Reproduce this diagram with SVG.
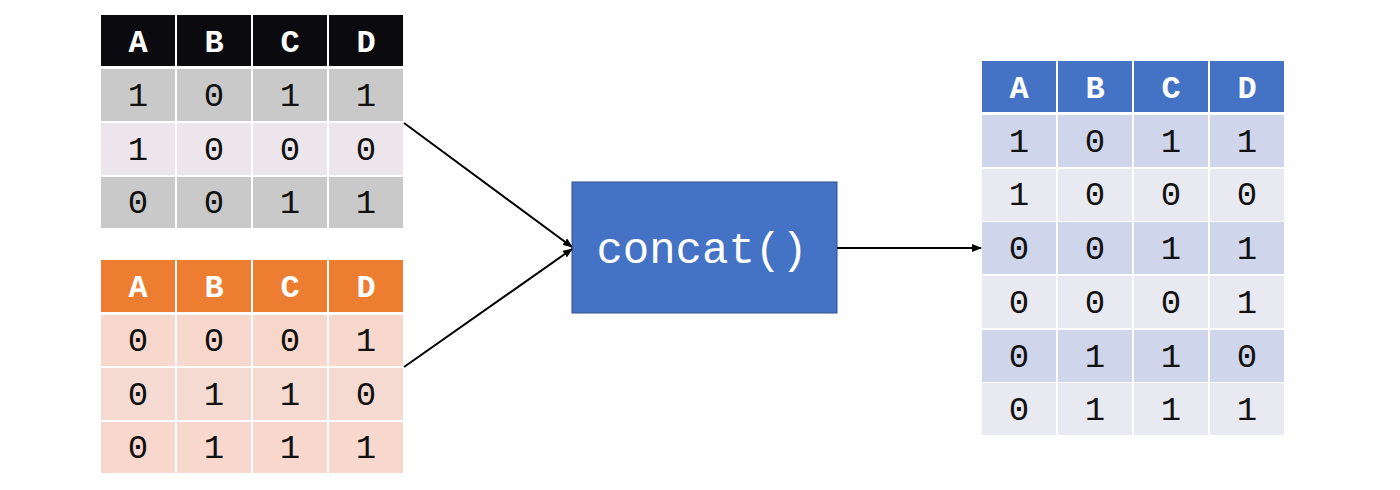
<svg xmlns="http://www.w3.org/2000/svg" width="1400" height="490" viewBox="0 0 1400 490">
<style>
.hd{font-family:"Courier New","Nimbus Mono PS","FreeMono","Liberation Mono",monospace;font-weight:bold;font-size:32px;fill:#ffffff;text-anchor:middle}
.v{font-family:"Courier New","Nimbus Mono PS","FreeMono","Liberation Mono",monospace;font-size:34px;fill:#111111;text-anchor:middle}
.blk{fill:#0a0a0f}.g1{fill:#c9c9c9}.g2{fill:#ece5ec}
.org{fill:#ed7d31}.o1{fill:#f8d7cc}.o2{fill:#f5dad2}
.blu{fill:#4472c4}.b1{fill:#cfd5ea}.b2{fill:#e9e9f1}
.ln{stroke:#000;stroke-width:2;fill:none;marker-end:url(#ah)}
</style>
<defs>
<marker id="ah" markerWidth="10" markerHeight="8" refX="9" refY="4" orient="auto" markerUnits="userSpaceOnUse">
<path d="M0,0 L10,4 L0,8 Z" fill="#000"/>
</marker>
</defs>
<rect width="1400" height="490" fill="#ffffff"/>

<g id="table1">
<rect class="blk" x="101" y="15" width="74" height="51"/><rect class="blk" x="177" y="15" width="74" height="51"/><rect class="blk" x="253" y="15" width="74" height="51"/><rect class="blk" x="329" y="15" width="74" height="51"/>
<text class="hd" x="138" y="52">A</text><text class="hd" x="214" y="52">B</text><text class="hd" x="290" y="52">C</text><text class="hd" x="366" y="52">D</text>
<rect class="g1" x="101" y="69" width="74" height="52"/><rect class="g1" x="177" y="69" width="74" height="52"/><rect class="g1" x="253" y="69" width="74" height="52"/><rect class="g1" x="329" y="69" width="74" height="52"/>
<text class="v" x="138" y="106">1</text><text class="v" x="214" y="106">0</text><text class="v" x="290" y="106">1</text><text class="v" x="366" y="106">1</text>
<rect class="g2" x="101" y="123" width="74" height="52"/><rect class="g2" x="177" y="123" width="74" height="52"/><rect class="g2" x="253" y="123" width="74" height="52"/><rect class="g2" x="329" y="123" width="74" height="52"/>
<text class="v" x="138" y="160">1</text><text class="v" x="214" y="160">0</text><text class="v" x="290" y="160">0</text><text class="v" x="366" y="160">0</text>
<rect class="g1" x="101" y="177" width="74" height="51"/><rect class="g1" x="177" y="177" width="74" height="51"/><rect class="g1" x="253" y="177" width="74" height="51"/><rect class="g1" x="329" y="177" width="74" height="51"/>
<text class="v" x="138" y="213">0</text><text class="v" x="214" y="213">0</text><text class="v" x="290" y="213">1</text><text class="v" x="366" y="213">1</text>
</g>

<g id="table2">
<rect class="org" x="101" y="260" width="74" height="52"/><rect class="org" x="177" y="260" width="74" height="52"/><rect class="org" x="253" y="260" width="74" height="52"/><rect class="org" x="329" y="260" width="74" height="52"/>
<text class="hd" x="138" y="297">A</text><text class="hd" x="214" y="297">B</text><text class="hd" x="290" y="297">C</text><text class="hd" x="366" y="297">D</text>
<rect class="o1" x="101" y="315" width="74" height="51"/><rect class="o1" x="177" y="315" width="74" height="51"/><rect class="o1" x="253" y="315" width="74" height="51"/><rect class="o1" x="329" y="315" width="74" height="51"/>
<text class="v" x="138" y="351">0</text><text class="v" x="214" y="351">0</text><text class="v" x="290" y="351">0</text><text class="v" x="366" y="351">1</text>
<rect class="o2" x="101" y="368" width="74" height="52"/><rect class="o2" x="177" y="368" width="74" height="52"/><rect class="o2" x="253" y="368" width="74" height="52"/><rect class="o2" x="329" y="368" width="74" height="52"/>
<text class="v" x="138" y="405">0</text><text class="v" x="214" y="405">1</text><text class="v" x="290" y="405">1</text><text class="v" x="366" y="405">0</text>
<rect class="o1" x="101" y="422" width="74" height="51"/><rect class="o1" x="177" y="422" width="74" height="51"/><rect class="o1" x="253" y="422" width="74" height="51"/><rect class="o1" x="329" y="422" width="74" height="51"/>
<text class="v" x="138" y="458">0</text><text class="v" x="214" y="458">1</text><text class="v" x="290" y="458">1</text><text class="v" x="366" y="458">1</text>
</g>

<g id="concat">
<rect x="572" y="182" width="265" height="131" fill="#4472c4" stroke="#2f528f" stroke-width="1"/>
<text x="702" y="263" font-family="'Courier New','Nimbus Mono PS','FreeMono','Liberation Mono',monospace" font-size="44" fill="#ffffff" text-anchor="middle">concat()</text>
</g>

<g id="table3">
<rect class="blu" x="982" y="61" width="74" height="51"/><rect class="blu" x="1058" y="61" width="74" height="51"/><rect class="blu" x="1134" y="61" width="74" height="51"/><rect class="blu" x="1210" y="61" width="74" height="51"/>
<text class="hd" x="1019" y="98">A</text><text class="hd" x="1095" y="98">B</text><text class="hd" x="1171" y="98">C</text><text class="hd" x="1247" y="98">D</text>
<rect class="b1" x="982" y="115" width="74" height="52"/><rect class="b1" x="1058" y="115" width="74" height="52"/><rect class="b1" x="1134" y="115" width="74" height="52"/><rect class="b1" x="1210" y="115" width="74" height="52"/>
<text class="v" x="1019" y="152">1</text><text class="v" x="1095" y="152">0</text><text class="v" x="1171" y="152">1</text><text class="v" x="1247" y="152">1</text>
<rect class="b2" x="982" y="169" width="74" height="52"/><rect class="b2" x="1058" y="169" width="74" height="52"/><rect class="b2" x="1134" y="169" width="74" height="52"/><rect class="b2" x="1210" y="169" width="74" height="52"/>
<text class="v" x="1019" y="205">1</text><text class="v" x="1095" y="205">0</text><text class="v" x="1171" y="205">0</text><text class="v" x="1247" y="205">0</text>
<rect class="b1" x="982" y="222" width="74" height="52"/><rect class="b1" x="1058" y="222" width="74" height="52"/><rect class="b1" x="1134" y="222" width="74" height="52"/><rect class="b1" x="1210" y="222" width="74" height="52"/>
<text class="v" x="1019" y="259">0</text><text class="v" x="1095" y="259">0</text><text class="v" x="1171" y="259">1</text><text class="v" x="1247" y="259">1</text>
<rect class="b2" x="982" y="276" width="74" height="52"/><rect class="b2" x="1058" y="276" width="74" height="52"/><rect class="b2" x="1134" y="276" width="74" height="52"/><rect class="b2" x="1210" y="276" width="74" height="52"/>
<text class="v" x="1019" y="313">0</text><text class="v" x="1095" y="313">0</text><text class="v" x="1171" y="313">0</text><text class="v" x="1247" y="313">1</text>
<rect class="b1" x="982" y="330" width="74" height="52"/><rect class="b1" x="1058" y="330" width="74" height="52"/><rect class="b1" x="1134" y="330" width="74" height="52"/><rect class="b1" x="1210" y="330" width="74" height="52"/>
<text class="v" x="1019" y="367">0</text><text class="v" x="1095" y="367">1</text><text class="v" x="1171" y="367">1</text><text class="v" x="1247" y="367">0</text>
<rect class="b2" x="982" y="383" width="74" height="52"/><rect class="b2" x="1058" y="383" width="74" height="52"/><rect class="b2" x="1134" y="383" width="74" height="52"/><rect class="b2" x="1210" y="383" width="74" height="52"/>
<text class="v" x="1019" y="420">0</text><text class="v" x="1095" y="420">1</text><text class="v" x="1171" y="420">1</text><text class="v" x="1247" y="420">1</text>
</g>

<g id="connectors">
<line class="ln" x1="404" y1="123" x2="572" y2="247"/>
<line class="ln" x1="404" y1="367" x2="572" y2="249"/>
<line class="ln" x1="837" y1="248" x2="981" y2="248"/>
</g>
</svg>
